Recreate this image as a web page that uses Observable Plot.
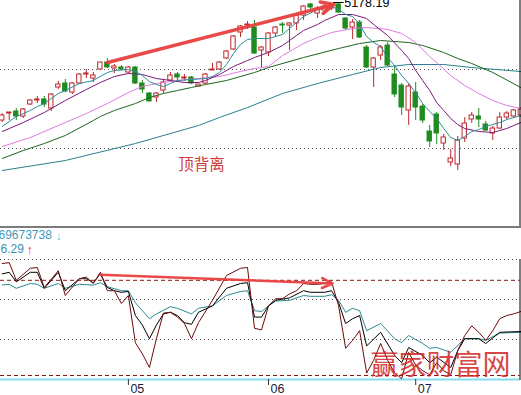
<!DOCTYPE html>
<html><head><meta charset="utf-8">
<script src="https://cdn.jsdelivr.net/npm/d3@7"></script>
<script src="https://cdn.jsdelivr.net/npm/@observablehq/plot@0.6"></script>
<style>
html,body{margin:0;padding:0;background:#fff;}
#chart{width:521px;height:395px;overflow:hidden;}
#top{height:226px;}
#bottom{border-top:2px solid #7b7b7b;height:167px;}
svg{display:block;}
</style></head><body>
<div id="chart"><div id="top"></div><div id="bottom"></div></div>
<script>
// ---- candles (index 0..74) ----
const opens  = [4000,4070,4090,4040,4160,4200,4210,4120,4330,4370,4280,4370,4460,4420,4510,4580,4520,4530,4480,4530,
                4370,4270,4230,4300,4400,4460,4420,4430,4340,4370,4500,4510,4620,4710,4880,4950,4930,4700,4680,4870,
                4960,4950,4970,5050,5160,5070,5100,5120,5160,5020,4930,4980,4730,4530,4650,4750,4460,4350,4100,4280,
                4140,3890,4060,3770,3580,3560,3820,4010,4040,3960,3870,3920,4030,4040,4050];
const highs  = [4070,4080,4120,4120,4210,4240,4240,4270,4390,4410,4380,4470,4510,4480,4580,4620,4560,4550,4540,4540,
                4400,4280,4280,4400,4480,4480,4460,4440,4360,4470,4570,4590,4700,4850,4950,4990,5000,4740,4880,4940,
                4980,4980,5070,5150,5170,5140,5160,5170,5180,5030,5010,5000,4750,4630,4750,4780,4550,4370,4370,4380,
                4160,3950,4080,3860,3710,3840,4030,4080,4120,3990,3940,4080,4090,4110,4130];
const lows   = [3980,4000,4000,4020,4150,4170,4130,4090,4310,4280,4260,4360,4420,4380,4500,4520,4470,4500,4470,4360,
                4270,4190,4180,4270,4380,4400,4390,4360,4340,4360,4500,4500,4610,4700,4830,4910,4660,4520,4640,4830,
                4870,4700,4900,5000,5100,5020,5060,5100,5070,4900,4810,4820,4520,4330,4600,4540,4230,4050,3950,4000,
                3970,3730,3760,3700,3540,3500,3780,3970,3930,3890,3800,3910,4010,4020,4030];
const closes = [4050,4080,4040,4110,4200,4210,4160,4260,4360,4290,4370,4460,4470,4450,4580,4530,4540,4510,4530,4370,
                4310,4190,4270,4380,4450,4430,4430,4370,4360,4460,4510,4580,4690,4840,4940,4960,4670,4730,4870,4930,
                4950,4970,5050,5140,5130,5120,5140,5150,5080,4920,4980,4830,4530,4620,4730,4550,4260,4130,4340,4130,
                4000,3790,3870,3830,3620,3800,3970,4050,4010,3900,3920,4030,4070,4100,4110];

// ---- moving averages: [candle index, price] ----
const ma5  = [[0,3940],[2,4040],[4,4100],[5,4140],[6,4170],[8,4270],[9,4300],[11,4370],[13,4400],[14,4440],[15,4480],[16,4500],
              [18,4510],[19,4490],[20,4450],[21,4390],[22,4360],[23,4340],[24,4370],[25,4400],[27,4410],[29,4420],[30,4440],
              [31,4480],[32,4560],[33,4670],[34,4760],[35,4810],[36,4820],[38,4820],[40,4860],[41,4920],[42,4980],[43,5040],
              [45,5110],[47,5140],[48,5110],[49,5060],[50,5040],[51,4960],[52,4840],[53,4780],[54,4740],[55,4630],[56,4550],
              [57,4450],[58,4370],[59,4280],[60,4170],[61,4090],[62,4020],[63,3920],[64,3830],[65,3800],[66,3840],[67,3890],
              [68,3910],[69,3940],[70,3960],[71,3980],[72,4010],[73,4030],[74,4050]];
const ma10 = [[0,3890],[3,3980],[6,4080],[9,4200],[12,4310],[14,4380],[16,4440],[18,4470],[20,4460],[22,4420],[24,4400],
              [26,4380],[28,4380],[29,4400],[31,4460],[33,4540],[35,4600],[36,4630],[38,4680],[40,4750],[41,4800],[42,4850],
              [43,4900],[45,4960],[46,5000],[48,5060],[50,5060],[52,5020],[53,4960],[55,4850],[57,4700],[58,4620],[59,4500],
              [60,4400],[61,4300],[62,4180],[63,4100],[64,4020],[65,3960],[66,3920],[68,3890],[70,3880],[71,3900],[72,3920],
              [73,3950],[74,3980]];
const ma20 = [[0,3740],[4,3830],[9,3980],[12,4070],[15,4170],[18,4280],[20,4340],[22,4370],[25,4400],[28,4420],[31,4440],
              [34,4490],[36,4520],[38,4540],[40,4650],[43,4770],[45,4830],[47,4880],[50,4920],[52,4930],[55,4910],[57,4870],
              [59,4780],[61,4640],[62,4580],[64,4450],[66,4350],[68,4270],[70,4200],[72,4150],[74,4120]];
const ma30 = [[0,3620],[3,3700],[6,3770],[9,3850],[13,4000],[14,4040],[16,4100],[19,4170],[21,4230],[23,4270],[25,4300],
              [27,4330],[29,4360],[32,4400],[36,4480],[38,4530],[43,4630],[48,4720],[51,4770],[54,4800],[58,4780],[60,4750],
              [63,4680],[65,4620],[67,4570],[70,4480],[74,4330]];
const ma60 = [[0,3500],[9,3600],[19,3770],[28,3950],[31,4030],[35,4130],[40,4270],[45,4370],[50,4460],[54,4530],[58,4560],
              [63,4560],[67,4530],[74,4490]];
const priceGuides = [4510, 3720];
const peakLabel = "5178.19";
const divergenceLabel = ["顶背离"];
const divergencePos = [28.43, 3550];
const priceArrow = [15.03, 4580, 47.35, 5160];

// ---- indicator panel: [candle index, value] ----
const lineJ = [[0,95],[1,96],[2,74],[4,89],[5,90],[6,65],[8,86],[9,55],[11,76],[12,78],[13,70],[14,84],[15,61],[16,61],[17,45],
               [18,55],[19,-4],[20,-18],[21,-35],[22,1],[23,33],[24,34],[25,28],[26,20],[27,1],[28,21],[30,49],[32,80],[34,89],
               [35,90],[36,14],[37,12],[38,42],[39,51],[40,51],[41,57],[42,61],[43,70],[44,69],[45,69],[46,70],[47,72],[48,42],
               [49,-11],[50,-1],[51,11],[52,-42],[53,-26],[54,-5],[55,-26],[56,-42],[57,-49],[58,-16],[59,-32],[60,-39],[61,-44],
               [62,-29],[63,-39],[64,-44],[65,-14],[66,5],[67,17],[68,9],[69,-1],[70,11],[71,26],[72,30],[73,32],[74,35]];
const lineK = [[0,82],[1,84],[2,72],[4,84],[5,84],[6,64],[8,84],[9,61],[11,76],[12,76],[13,71],[14,82],[15,65],[16,61],[17,59],
               [18,60],[19,30],[20,18],[21,1],[22,18],[23,32],[24,34],[25,30],[26,21],[27,19],[28,34],[30,42],[32,64],[34,70],
               [35,71],[36,28],[37,28],[38,42],[39,49],[41,52],[43,61],[44,59],[46,59],[47,61],[48,46],[49,20],[50,26],[51,30],
               [52,-8],[54,9],[56,-20],[57,-29],[58,-10],[60,-20],[61,-29],[62,-22],[64,-35],[65,-14],[66,1],[68,1],[69,-5],
               [71,9],[74,10]];
const lineD = [[0,68],[1,69],[2,64],[4,70],[5,69],[6,64],[8,70],[9,64],[11,69],[13,68],[14,71],[15,66],[17,61],[18,61],[19,46],
               [21,26],[22,32],[24,41],[25,39],[27,32],[28,39],[30,42],[32,55],[34,60],[35,61],[36,36],[37,35],[38,42],[39,48],
               [41,49],[43,55],[44,54],[46,54],[47,56],[48,49],[49,34],[50,39],[51,36],[52,11],[54,20],[56,1],[57,-4],[58,5],
               [60,-5],[61,-11],[62,-10],[64,-16],[66,1],[68,1],[69,-1],[71,8],[74,9]];
const dotLevels = [100, 50, 0];
const dashLevels = [74, -45];
const baseLevel = [-50];
const monthTicks = [18, 38, 59];
const monthLabels = ["05", "06", "07"];
const indArrow = [14.03, 81, 47.15, 70];
const volText = "69673738";
const valText = "6.29";
const watermark = "赢家财富网";
const watermarkPos = [62.54, -33];

// ---- build ----
const RED = "#bf262c", GRN = "#1e8c1e";
const candles = opens.map((o, i) => ({i, o, h: highs[i], l: lows[i], c: closes[i]}));
const ups = candles.filter(d => d.c >= d.o), downs = candles.filter(d => d.c < d.o);
const peak = candles.reduce((a, b) => (b.h > a.h ? b : a));
const xDom = [-0.25, 73.885];
const FONT = "'Liberation Sans', Arial, sans-serif";
const CJK = "'Noto Sans CJK SC', sans-serif";

const topPlot = Plot.plot({
  width: 521, height: 226, marginLeft: 0, marginRight: 1.5, marginTop: 0, marginBottom: 0,
  style: {fontFamily: FONT, background: "#fff"},
  x: {domain: xDom, axis: null},
  y: {domain: [2940, 5200], axis: null},
  marks: [
    Plot.ruleY(priceGuides, {stroke: "#555", strokeDasharray: "1,3"}),
    Plot.ruleX(ups, {x: "i", y1: "l", y2: "h", stroke: RED}),
    Plot.ruleX(downs, {x: "i", y1: "l", y2: "h", stroke: GRN}),
    Plot.rect(ups, {x1: d => d.i - 0.31, x2: d => d.i + 0.31, y1: "o", y2: "c", fill: "#fff", stroke: RED}),
    Plot.rect(downs, {x1: d => d.i - 0.31, x2: d => d.i + 0.31, y1: "o", y2: "c", fill: GRN, stroke: GRN}),
    Plot.line(ma60, {x: d => d[0], y: d => d[1], stroke: "#2a7f90", strokeWidth: 1}),
    Plot.line(ma30, {x: d => d[0], y: d => d[1], stroke: "#1d661d", strokeWidth: 1}),
    Plot.line(ma20, {x: d => d[0], y: d => d[1], stroke: "#e07ae0", strokeWidth: 1}),
    Plot.line(ma10, {x: d => d[0], y: d => d[1], stroke: "#7a1a78", strokeWidth: 1}),
    Plot.line(ma5, {x: d => d[0], y: d => d[1], stroke: "#2a8e98", strokeWidth: 1}),
    Plot.arrow([priceArrow], {x1: d => d[0], y1: d => d[1], x2: d => d[2], y2: d => d[3],
      stroke: "#e8403e", strokeWidth: 3.5, headLength: 6, headAngle: 50, strokeOpacity: 0.95}),
    Plot.ruleY([peak], {y: "h", x1: d => d.i - 0.7, x2: d => d.i + 0.8, stroke: "#000"}),
    Plot.text([peak], {x: d => d.i + 0.8, y: "h", text: () => peakLabel, textAnchor: "start",
      lineAnchor: "middle", fontSize: 12.5, fill: "#000", dy: 0}),
    Plot.text(divergenceLabel, {x: () => divergencePos[0], y: () => divergencePos[1], text: d => d,
      fontFamily: CJK, fontSize: 15.5, fill: "#cf3a3a", lineAnchor: "middle"}),
    Plot.frame({anchor: "right", stroke: "#000"})
  ]
});
document.getElementById("top").appendChild(topPlot);

const botPlot = Plot.plot({
  width: 521, height: 167, marginLeft: 0, marginRight: 1.5, marginTop: 31, marginBottom: 16,
  style: {fontFamily: FONT, background: "#fff", overflow: "visible"},
  x: {domain: xDom, axis: null},
  y: {domain: [-50, 100], axis: null},
  marks: [
    Plot.ruleY(dotLevels, {stroke: "#555", strokeDasharray: "1,3"}),
    Plot.ruleY(dashLevels, {stroke: "#8b1515", strokeDasharray: "4,3"}),
    Plot.ruleY(baseLevel, {stroke: "#86dcec", strokeWidth: 2}),
    Plot.line(lineD, {x: d => d[0], y: d => d[1], stroke: "#2a8a90", strokeWidth: 1}),
    Plot.line(lineK, {x: d => d[0], y: d => d[1], stroke: "#000", strokeWidth: 1}),
    Plot.line(lineJ, {x: d => d[0], y: d => d[1], stroke: "#700a0a", strokeWidth: 1}),
    Plot.arrow([indArrow], {x1: d => d[0], y1: d => d[1], x2: d => d[2], y2: d => d[3],
      stroke: "#e8403e", strokeWidth: 2.5, headLength: 7, headAngle: 50, strokeOpacity: 0.95}),
    Plot.text([watermark], {x: () => watermarkPos[0], y: () => watermarkPos[1], text: d => d,
      fontFamily: CJK, fontSize: 28, fill: "#d02424", fillOpacity: 0.85, lineAnchor: "middle"}),
    Plot.ruleX(monthTicks, {x: d => d, y1: -50, y2: -57.5, stroke: "#333"}),
    Plot.text(monthTicks, {x: d => d, y: -61.5, text: (d, i) => monthLabels[i], textAnchor: "start", dx: 2,
      lineAnchor: "middle", fontSize: 12.5, fill: "#1a1a3a"}),
    Plot.text([volText], {frameAnchor: "top-left", dx: -2, dy: -24, text: d => d, textAnchor: "start",
      lineAnchor: "middle", fontSize: 12, fill: "#3f9ab8"}),
    Plot.text(["↓"], {frameAnchor: "top-left", dx: 55, dy: -24, text: d => d, textAnchor: "start",
      lineAnchor: "middle", fontSize: 12.5, fill: "#5ed8ee", fontWeight: "bold"}),
    Plot.text([valText], {frameAnchor: "top-left", dx: 0, dy: -10, text: d => d, textAnchor: "start",
      lineAnchor: "middle", fontSize: 12, fill: "#3a8fb0"}),
    Plot.text(["↑"], {frameAnchor: "top-left", dx: 26, dy: -10, text: d => d, textAnchor: "start",
      lineAnchor: "middle", fontSize: 12.5, fill: "#e02424", fontWeight: "bold"}),
    Plot.frame({anchor: "right", stroke: "#000"})
  ]
});
document.getElementById("bottom").appendChild(botPlot);
</script>
</body></html>
